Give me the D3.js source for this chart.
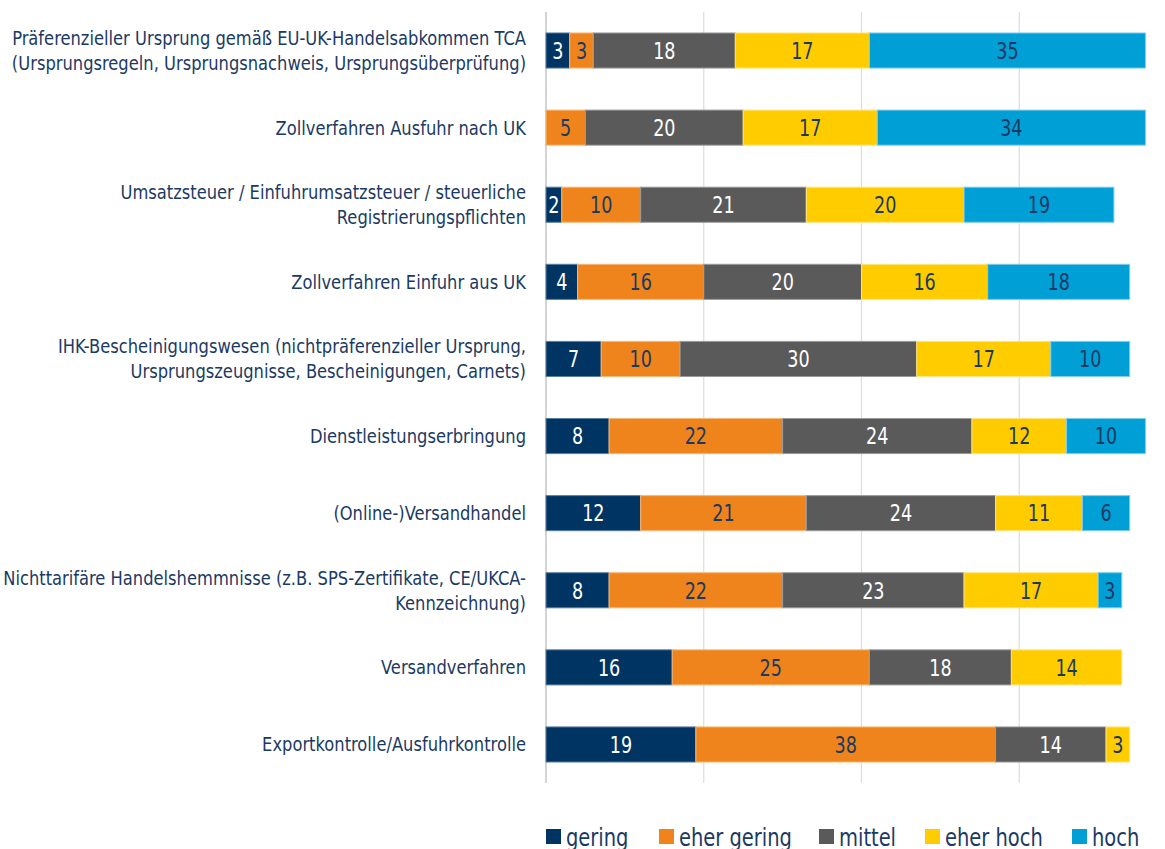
<!DOCTYPE html>
<html><head><meta charset="utf-8">
<script src="https://cdn.jsdelivr.net/npm/d3@7"></script>
<style>
body{margin:0;background:#fff;}
text{font-family:"Liberation Sans Narrow","DejaVu Sans Condensed",sans-serif;}
</style></head>
<body><svg id="c" width="1165" height="849"></svg>
<script>
const categories = [
  ["Präferenzieller Ursprung gemäß EU-UK-Handelsabkommen TCA","(Ursprungsregeln, Ursprungsnachweis, Ursprungsüberprüfung)"],
  ["Zollverfahren Ausfuhr nach UK"],
  ["Umsatzsteuer / Einfuhrumsatzsteuer / steuerliche","Registrierungspflichten"],
  ["Zollverfahren Einfuhr aus UK"],
  ["IHK-Bescheinigungswesen (nichtpräferenzieller Ursprung,","Ursprungszeugnisse, Bescheinigungen, Carnets)"],
  ["Dienstleistungserbringung"],
  ["(Online-)Versandhandel"],
  ["Nichttarifäre Handelshemmnisse (z.B. SPS-Zertifikate, CE/UKCA-","Kennzeichnung)"],
  ["Versandverfahren"],
  ["Exportkontrolle/Ausfuhrkontrolle"]
];
const seriesNames = ["gering","eher gering","mittel","eher hoch","hoch"];
const gering     = [3,0,2,4,7,8,12,8,16,19];
const eherGering = [3,5,10,16,10,22,21,22,25,38];
const mittel     = [18,20,21,20,30,24,24,23,18,14];
const eherHoch   = [17,17,20,16,17,12,11,17,14,3];
const hoch       = [35,34,19,18,10,10,6,3,0,0];
const xTicks = [0,20,40,60,80];

const colors = ["#003462","#ef841c","#5a5a5b","#ffcc00","#009fd6"];
const strokes = ["#5a7fa3","#f6b87a","#9a9a9a","#ffe480","#7fcdeb"];
const textColors = ["#ffffff","#1b3a63","#ffffff","#1b3a63","#1b3a63"];

const data = categories.map((c,i)=>({cat:i, gering:gering[i], "eher gering":eherGering[i], mittel:mittel[i], "eher hoch":eherHoch[i], hoch:hoch[i]}));
const stack = d3.stack().keys(seriesNames)(data);

const svg = d3.select("#c");
const x = d3.scaleLinear().domain([0,80]).range([546,1177]);
const y = d3.scaleBand().domain(d3.range(categories.length)).range([12,783]).paddingInner(0.545).paddingOuter(0.272);

// gridlines
const g = svg.append("g");
g.selectAll("line").data(xTicks).join("line")
  .attr("x1",d=>x(d)).attr("x2",d=>x(d)).attr("y1",12).attr("y2",783)
  .attr("stroke",d=>d===0?"#d4d4d4":"#dcdcdc").attr("stroke-width",d=>d===0?2:1.2);

// measure helper
function measure(str, size){
  const t = svg.append("text").attr("font-size",size).text(str);
  const w = t.node().getComputedTextLength(); t.remove(); return w;
}

// bars
const barK = 0.85;
stack.forEach((s,si)=>{
  const gs = svg.append("g");
  s.forEach((d,i)=>{
    const v = d[1]-d[0];
    if(v<=0) return;
    gs.append("rect").attr("x",x(d[0])).attr("y",y(i)).attr("width",x(d[1])-x(d[0])).attr("height",y.bandwidth())
      .attr("fill",colors[si]).attr("stroke",strokes[si]).attr("stroke-width",1);
    const cx = (x(d[0])+x(d[1]))/2;
    gs.append("text").attr("transform",`translate(${cx},${y(i)+y.bandwidth()/2}) scale(${barK},1)`).attr("dy","0.36em")
      .attr("text-anchor","middle").attr("font-size",23).attr("fill",textColors[si]).text(v);
  });
});

// category labels
const catSize = 19.5;
const catK = 514 / measure(categories[0][0], catSize);
categories.forEach((lines,i)=>{
  const cy = y(i)+y.bandwidth()/2;
  const lh = 25;
  const t = svg.append("text").attr("text-anchor","end").attr("font-size",catSize).attr("fill","#1b3a63")
    .attr("transform",`translate(526,0) scale(${catK},1)`);
  lines.forEach((l,j)=>{
    t.append("tspan").attr("x",0).attr("y",cy + (j-(lines.length-1)/2)*lh).attr("dy","0.36em").text(l);
  });
});

// legend
const legX = [546,659,819,925,1072];
const legSize = 25;
const legK = 113 / measure("eher gering", legSize);
const lg = svg.append("g");
seriesNames.forEach((n,i)=>{
  lg.append("rect").attr("x",legX[i]).attr("y",829).attr("width",15).attr("height",15).attr("fill",colors[i]);
  lg.append("text").attr("transform",`translate(${legX[i]+20},837) scale(${legK},1)`).attr("dy","0.36em")
    .attr("font-size",legSize).attr("fill","#1b3a63").text(n);
});
</script></body></html>
